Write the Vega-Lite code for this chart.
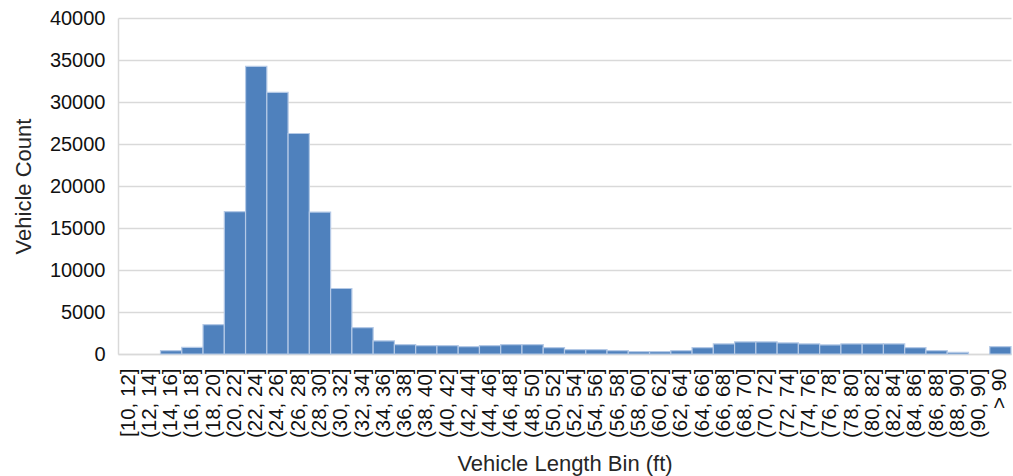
{
  "$schema": "https://vega.github.io/schema/vega-lite/v6.json",
  "width": 1013,
  "height": 476,
  "autosize": {"type": "fit", "contains": "padding"},
  "padding": {"left": 12, "right": 1, "top": 8, "bottom": 1},
  "background": "white",
  "config": {
    "view": {"stroke": null},
    "font": "Liberation Sans"
  },
  "data": {
    "values": [
      {"bin": "[10, 12]", "count": 0},
      {"bin": "(12, 14]", "count": 0},
      {"bin": "(14, 16]", "count": 400},
      {"bin": "(16, 18]", "count": 780},
      {"bin": "(18, 20]", "count": 3500},
      {"bin": "(20, 22]", "count": 16950},
      {"bin": "(22, 24]", "count": 34250},
      {"bin": "(24, 26]", "count": 31150},
      {"bin": "(26, 28]", "count": 26250},
      {"bin": "(28, 30]", "count": 16900},
      {"bin": "(30, 32]", "count": 7800},
      {"bin": "(32, 34]", "count": 3150},
      {"bin": "(34, 36]", "count": 1560},
      {"bin": "(36, 38]", "count": 1120},
      {"bin": "(38, 40]", "count": 1000},
      {"bin": "(40, 42]", "count": 1000},
      {"bin": "(42, 44]", "count": 880},
      {"bin": "(44, 46]", "count": 1000},
      {"bin": "(46, 48]", "count": 1120},
      {"bin": "(48, 50]", "count": 1120},
      {"bin": "(50, 52]", "count": 760},
      {"bin": "(52, 54]", "count": 520},
      {"bin": "(54, 56]", "count": 520},
      {"bin": "(56, 58]", "count": 400},
      {"bin": "(58, 60]", "count": 280},
      {"bin": "(60, 62]", "count": 280},
      {"bin": "(62, 64]", "count": 400},
      {"bin": "(64, 66]", "count": 760},
      {"bin": "(66, 68]", "count": 1200},
      {"bin": "(68, 70]", "count": 1440},
      {"bin": "(70, 72]", "count": 1440},
      {"bin": "(72, 74]", "count": 1320},
      {"bin": "(74, 76]", "count": 1200},
      {"bin": "(76, 78]", "count": 1080},
      {"bin": "(78, 80]", "count": 1200},
      {"bin": "(80, 82]", "count": 1200},
      {"bin": "(82, 84]", "count": 1200},
      {"bin": "(84, 86]", "count": 760},
      {"bin": "(86, 88]", "count": 400},
      {"bin": "(88, 90]", "count": 200},
      {"bin": "(90, 90]", "count": 0},
      {"bin": "> 90", "count": 880}
    ]
  },
  "mark": {"type": "bar", "color": "#4F81BD", "strokeWidth": 1.2},
  "encoding": {
    "stroke": {"condition": {"test": "datum.count > 0", "value": "#B4C9E6"}, "value": null},
    "x": {
      "field": "bin",
      "type": "nominal",
      "sort": null,
      "scale": {"paddingInner": 0, "paddingOuter": 0},
      "axis": {
        "title": "Vehicle Length Bin (ft)",
        "titleFont": "Liberation Sans",
        "titleFontSize": 22,
        "titleFontWeight": "normal",
        "titleColor": "#262626",
        "titlePadding": 16,
        "labelAngle": -90,
        "labelFontSize": 20.5,
        "labelColor": "#111111",
        "labelPadding": 14,
        "ticks": false,
        "domainColor": "#D9D9D9",
        "domainWidth": 1.5
      }
    },
    "y": {
      "field": "count",
      "type": "quantitative",
      "scale": {"domain": [0, 40000], "nice": false},
      "axis": {
        "title": "Vehicle Count",
        "titleFont": "Liberation Sans",
        "titleFontSize": 22,
        "titleFontWeight": "normal",
        "titleColor": "#262626",
        "titlePadding": 14,
        "values": [0, 5000, 10000, 15000, 20000, 25000, 30000, 35000, 40000],
        "format": "d",
        "labelFontSize": 20,
        "labelColor": "#111111",
        "labelPadding": 13,
        "ticks": false,
        "domainColor": "#D9D9D9",
        "domainWidth": 1.5,
        "gridColor": "#D9D9D9",
        "gridWidth": 1.5
      }
    }
  }
}
